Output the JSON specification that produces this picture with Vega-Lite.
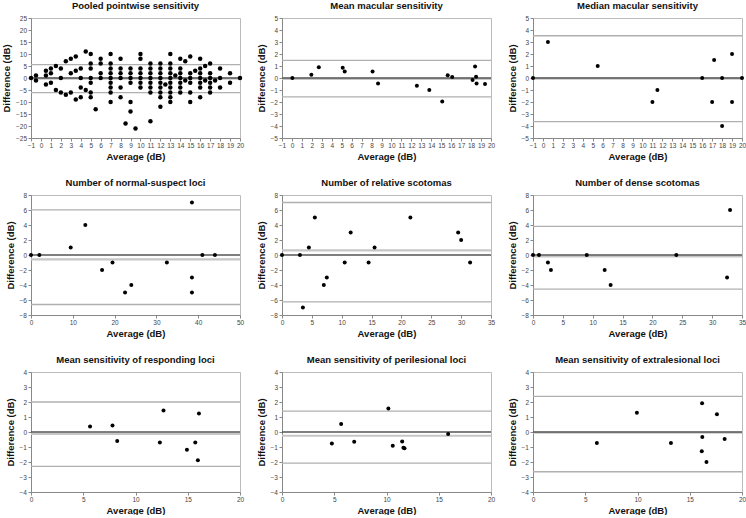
{
"$schema": "https://vega.github.io/schema/vega-lite/v6.json",
"background": "white",
"padding": {"left": 0, "top": 0, "right": 4, "bottom": 0},
"config": {
  "font": "Liberation Sans",
  "view": {"stroke": "#bbb", "strokeWidth": 1},
  "axis": {"grid": false, "domainColor": "#888", "tickColor": "#888", "tickSize": 3, "labelFontSize": 6.5, "labelColor": "#444", "titleFontSize": 9.5, "titleFontWeight": "bold", "titleColor": "#111", "labelPadding": 1.5, "labelOverlap": false, "labelFlush": false},
  "axisY": {"titlePadding": 4},
  "axisX": {"titlePadding": 2},
  "title": {"fontSize": 9.5, "fontWeight": "bold", "offset": 5, "color": "#111"}
},
"datasets": {
"lines": [
{"p":1,"k":"mean","y":-0.3},{"p":1,"k":"loa","y":5.6},{"p":1,"k":"loa","y":-6.1},{"p":1,"k":"zero","y":0},
{"p":2,"k":"mean","y":-0.08},{"p":2,"k":"loa","y":1.47},{"p":2,"k":"loa","y":-1.58},{"p":2,"k":"zero","y":0},
{"p":3,"k":"mean","y":-0.05},{"p":3,"k":"loa","y":3.52},{"p":3,"k":"loa","y":-3.64},{"p":3,"k":"zero","y":0},
{"p":4,"k":"mean","y":-0.58},{"p":4,"k":"loa","y":6.02},{"p":4,"k":"loa","y":-6.6},{"p":4,"k":"zero","y":0},
{"p":5,"k":"mean","y":0.63},{"p":5,"k":"loa","y":7.0},{"p":5,"k":"loa","y":-6.26},{"p":5,"k":"zero","y":0},
{"p":6,"k":"mean","y":-0.2},{"p":6,"k":"loa","y":3.82},{"p":6,"k":"loa","y":-4.55},{"p":6,"k":"zero","y":0},
{"p":7,"k":"mean","y":-0.13},{"p":7,"k":"loa","y":2.0},{"p":7,"k":"loa","y":-2.29},{"p":7,"k":"zero","y":0},
{"p":8,"k":"mean","y":-0.25},{"p":8,"k":"loa","y":1.39},{"p":8,"k":"loa","y":-2.08},{"p":8,"k":"zero","y":0},
{"p":9,"k":"mean","y":-0.05},{"p":9,"k":"loa","y":2.38},{"p":9,"k":"loa","y":-2.65},{"p":9,"k":"zero","y":0}
],
"pts": [
{"p":1,"x":-1,"y":0},
{"p":1,"x":-0.5,"y":1},{"p":1,"x":-0.5,"y":-1},
{"p":1,"x":0.5,"y":3},{"p":1,"x":0.5,"y":1},{"p":1,"x":0.5,"y":-2.7},
{"p":1,"x":1,"y":4},{"p":1,"x":1,"y":2},{"p":1,"x":1,"y":-2},
{"p":1,"x":1.5,"y":5},{"p":1,"x":1.5,"y":-5},
{"p":1,"x":2,"y":4},{"p":1,"x":2,"y":0},{"p":1,"x":2,"y":-6},
{"p":1,"x":2.5,"y":7},{"p":1,"x":2.5,"y":-7},
{"p":1,"x":3,"y":8},{"p":1,"x":3,"y":2},{"p":1,"x":3,"y":-6},
{"p":1,"x":3.5,"y":9},{"p":1,"x":3.5,"y":3},{"p":1,"x":3.5,"y":-9},
{"p":1,"x":4,"y":4},{"p":1,"x":4,"y":0},{"p":1,"x":4,"y":-4},{"p":1,"x":4,"y":-8},
{"p":1,"x":4.5,"y":11},{"p":1,"x":4.5,"y":-5},
{"p":1,"x":5,"y":10},{"p":1,"x":5,"y":6},{"p":1,"x":5,"y":4},{"p":1,"x":5,"y":0},{"p":1,"x":5,"y":-2},{"p":1,"x":5,"y":-6},{"p":1,"x":5,"y":-8},
{"p":1,"x":5.5,"y":-13},
{"p":1,"x":6,"y":8},{"p":1,"x":6,"y":6},{"p":1,"x":6,"y":2},{"p":1,"x":6,"y":0},
{"p":1,"x":7,"y":10},{"p":1,"x":7,"y":6},{"p":1,"x":7,"y":4},{"p":1,"x":7,"y":2},{"p":1,"x":7,"y":0},{"p":1,"x":7,"y":-2},{"p":1,"x":7,"y":-4},{"p":1,"x":7,"y":-6},{"p":1,"x":7,"y":-10},
{"p":1,"x":8,"y":8},{"p":1,"x":8,"y":4},{"p":1,"x":8,"y":2},{"p":1,"x":8,"y":0},{"p":1,"x":8,"y":-4},{"p":1,"x":8,"y":-8},
{"p":1,"x":8.5,"y":-19},
{"p":1,"x":9,"y":4},{"p":1,"x":9,"y":2},{"p":1,"x":9,"y":0},{"p":1,"x":9,"y":-2},{"p":1,"x":9,"y":-10},{"p":1,"x":9,"y":-14},
{"p":1,"x":9.5,"y":-21},
{"p":1,"x":10,"y":10},{"p":1,"x":10,"y":8},{"p":1,"x":10,"y":4},{"p":1,"x":10,"y":2},{"p":1,"x":10,"y":0},{"p":1,"x":10,"y":-2},{"p":1,"x":10,"y":-4},
{"p":1,"x":11,"y":6},{"p":1,"x":11,"y":4},{"p":1,"x":11,"y":2},{"p":1,"x":11,"y":0},{"p":1,"x":11,"y":-2},{"p":1,"x":11,"y":-4},{"p":1,"x":11,"y":-6},{"p":1,"x":11,"y":-18},
{"p":1,"x":12,"y":6},{"p":1,"x":12,"y":4},{"p":1,"x":12,"y":2},{"p":1,"x":12,"y":0},{"p":1,"x":12,"y":-2},{"p":1,"x":12,"y":-4},{"p":1,"x":12,"y":-6},{"p":1,"x":12,"y":-8},{"p":1,"x":12,"y":-12},
{"p":1,"x":12.5,"y":-2.7},
{"p":1,"x":13,"y":10},{"p":1,"x":13,"y":6},{"p":1,"x":13,"y":4},{"p":1,"x":13,"y":2},{"p":1,"x":13,"y":0},{"p":1,"x":13,"y":-2},{"p":1,"x":13,"y":-4},{"p":1,"x":13,"y":-6},{"p":1,"x":13,"y":-8},{"p":1,"x":13,"y":-10},
{"p":1,"x":13.5,"y":1},
{"p":1,"x":14,"y":8},{"p":1,"x":14,"y":4},{"p":1,"x":14,"y":2},{"p":1,"x":14,"y":0},{"p":1,"x":14,"y":-2},{"p":1,"x":14,"y":-4},{"p":1,"x":14,"y":-6},
{"p":1,"x":14.5,"y":7},{"p":1,"x":14.5,"y":-1},
{"p":1,"x":15,"y":9},{"p":1,"x":15,"y":2},{"p":1,"x":15,"y":0},{"p":1,"x":15,"y":-2},{"p":1,"x":15,"y":-6},{"p":1,"x":15,"y":-10},
{"p":1,"x":15.5,"y":3},
{"p":1,"x":16,"y":8},{"p":1,"x":16,"y":4},{"p":1,"x":16,"y":2},{"p":1,"x":16,"y":0},{"p":1,"x":16,"y":-2},{"p":1,"x":16,"y":-4},{"p":1,"x":16,"y":-8},
{"p":1,"x":16.5,"y":5},{"p":1,"x":16.5,"y":-1},
{"p":1,"x":17,"y":6},{"p":1,"x":17,"y":2},{"p":1,"x":17,"y":0},{"p":1,"x":17,"y":-2},{"p":1,"x":17,"y":-4},{"p":1,"x":17,"y":-6},
{"p":1,"x":17.5,"y":-1},
{"p":1,"x":18,"y":4},{"p":1,"x":18,"y":0},{"p":1,"x":18,"y":-4},
{"p":1,"x":19,"y":2},{"p":1,"x":19,"y":-2},
{"p":1,"x":20,"y":0},
{"p":2,"x":0.04,"y":0},{"p":2,"x":1.95,"y":0.28},{"p":2,"x":2.7,"y":0.9},{"p":2,"x":5.1,"y":0.85},{"p":2,"x":5.3,"y":0.55},{"p":2,"x":8.1,"y":0.55},{"p":2,"x":8.65,"y":-0.45},{"p":2,"x":12.55,"y":-0.65},{"p":2,"x":13.8,"y":-1.0},{"p":2,"x":15.1,"y":-1.95},{"p":2,"x":15.65,"y":0.22},{"p":2,"x":16.1,"y":0.08},{"p":2,"x":18.15,"y":-0.17},{"p":2,"x":18.4,"y":0.95},{"p":2,"x":18.5,"y":0.1},{"p":2,"x":18.55,"y":-0.45},{"p":2,"x":19.4,"y":-0.5},
{"p":3,"x":-1,"y":0},{"p":3,"x":0.5,"y":3},{"p":3,"x":5.5,"y":1},{"p":3,"x":11,"y":-2},{"p":3,"x":11.5,"y":-1},{"p":3,"x":16,"y":0},{"p":3,"x":17,"y":-2},{"p":3,"x":17.2,"y":1.5},{"p":3,"x":18,"y":0},{"p":3,"x":18,"y":-4},{"p":3,"x":19,"y":2},{"p":3,"x":19,"y":-2},{"p":3,"x":20,"y":0},
{"p":4,"x":0,"y":0},{"p":4,"x":2,"y":0},{"p":4,"x":9.5,"y":1},{"p":4,"x":13,"y":4},{"p":4,"x":17,"y":-2},{"p":4,"x":19.5,"y":-1},{"p":4,"x":22.5,"y":-5},{"p":4,"x":24,"y":-4},{"p":4,"x":32.5,"y":-1},{"p":4,"x":38.5,"y":7},{"p":4,"x":38.5,"y":-3},{"p":4,"x":38.5,"y":-5},{"p":4,"x":41,"y":0},{"p":4,"x":44,"y":0},
{"p":5,"x":0,"y":0},{"p":5,"x":3,"y":0},{"p":5,"x":3.5,"y":-7},{"p":5,"x":4.5,"y":1},{"p":5,"x":5.5,"y":5},{"p":5,"x":7,"y":-4},{"p":5,"x":7.5,"y":-3},{"p":5,"x":10.5,"y":-1},{"p":5,"x":11.5,"y":3},{"p":5,"x":14.5,"y":-1},{"p":5,"x":15.5,"y":1},{"p":5,"x":21.5,"y":5},{"p":5,"x":29.5,"y":3},{"p":5,"x":30,"y":2},{"p":5,"x":31.5,"y":-1},
{"p":6,"x":0,"y":0},{"p":6,"x":1,"y":0},{"p":6,"x":2.5,"y":-1},{"p":6,"x":3,"y":-2},{"p":6,"x":9,"y":0},{"p":6,"x":12,"y":-2},{"p":6,"x":13,"y":-4},{"p":6,"x":24,"y":0},{"p":6,"x":32.5,"y":-3},{"p":6,"x":33,"y":6},
{"p":7,"x":5.65,"y":0.36},{"p":7,"x":7.8,"y":0.43},{"p":7,"x":8.25,"y":-0.6},{"p":7,"x":12.33,"y":-0.7},{"p":7,"x":12.68,"y":1.44},{"p":7,"x":14.92,"y":-1.19},{"p":7,"x":15.72,"y":-0.7},{"p":7,"x":15.97,"y":-1.89},{"p":7,"x":16.07,"y":1.24},
{"p":8,"x":4.77,"y":-0.76},{"p":8,"x":5.66,"y":0.54},{"p":8,"x":6.91,"y":-0.65},{"p":8,"x":10.18,"y":1.56},{"p":8,"x":10.6,"y":-0.92},{"p":8,"x":11.5,"y":-0.63},{"p":8,"x":11.62,"y":-1.05},{"p":8,"x":11.72,"y":-1.08},{"p":8,"x":15.9,"y":-0.13},
{"p":9,"x":6.11,"y":-0.74},{"p":9,"x":9.94,"y":1.28},{"p":9,"x":13.2,"y":-0.74},{"p":9,"x":16.18,"y":1.91},{"p":9,"x":16.2,"y":-0.34},{"p":9,"x":16.15,"y":-1.28},{"p":9,"x":16.6,"y":-2.0},{"p":9,"x":17.6,"y":1.19},{"p":9,"x":18.34,"y":-0.47}
]
},
"columns": 3,
"spacing": {"row": 57, "column": 42},
"bounds": "flush",
"concat": [
{"title": "Pooled pointwise sensitivity", "width": 209, "height": 120,
 "encoding": {"y": {"field": "y", "type": "quantitative", "title": "Difference (dB)", "scale": {"domain": [-25, 25]}, "axis": {"values": [-25,-20,-15,-10,-5,0,5,10,15,20,25], "labelOverlap": false}}},
 "layer": [
 {"data": {"name": "lines"}, "transform": [{"filter": "datum.p==1"}], "mark": {"type": "rule"}, "encoding": {"color": {"condition": [{"test": "datum.k=='zero'", "value": "#555555"}, {"test": "datum.k=='mean'", "value": "#c6c6c6"}], "value": "#b0b0b0"}, "strokeWidth": {"condition": {"test": "datum.k=='mean'", "value": 2.2}, "value": 1.3}}},
 {"data": {"name": "pts"}, "transform": [{"filter": "datum.p==1"}], "mark": {"type": "circle", "color": "#000", "opacity": 1, "size": 20}, "encoding": {"x": {"field": "x", "type": "quantitative", "title": "Average (dB)", "scale": {"domain": [-1, 20], "nice": false, "zero": false}, "axis": {"values": [-1,0,1,2,3,4,5,6,7,8,9,10,11,12,13,14,15,16,17,18,19,20]}}}}
]},
{"title": "Mean macular sensitivity", "width": 209, "height": 120,
 "encoding": {"y": {"field": "y", "type": "quantitative", "title": "Difference (dB)", "scale": {"domain": [-5, 5]}, "axis": {"values": [-5,-4,-3,-2,-1,0,1,2,3,4,5], "labelOverlap": false}}},
 "layer": [
 {"data": {"name": "lines"}, "transform": [{"filter": "datum.p==2"}], "mark": {"type": "rule"}, "encoding": {"color": {"condition": [{"test": "datum.k=='zero'", "value": "#555555"}, {"test": "datum.k=='mean'", "value": "#c6c6c6"}], "value": "#b0b0b0"}, "strokeWidth": {"condition": {"test": "datum.k=='mean'", "value": 2.2}, "value": 1.3}}},
 {"data": {"name": "pts"}, "transform": [{"filter": "datum.p==2"}], "mark": {"type": "circle", "color": "#000", "opacity": 1, "size": 16}, "encoding": {"x": {"field": "x", "type": "quantitative", "title": "Average (dB)", "scale": {"domain": [-1, 20], "nice": false, "zero": false}, "axis": {"values": [-1,0,1,2,3,4,5,6,7,8,9,10,11,12,13,14,15,16,17,18,19,20]}}}}
]},
{"title": "Median macular sensitivity", "width": 209, "height": 120,
 "encoding": {"y": {"field": "y", "type": "quantitative", "title": "Difference (dB)", "scale": {"domain": [-5, 5]}, "axis": {"values": [-5,-4,-3,-2,-1,0,1,2,3,4,5], "labelOverlap": false}}},
 "layer": [
 {"data": {"name": "lines"}, "transform": [{"filter": "datum.p==3"}], "mark": {"type": "rule"}, "encoding": {"color": {"condition": [{"test": "datum.k=='zero'", "value": "#555555"}, {"test": "datum.k=='mean'", "value": "#c6c6c6"}], "value": "#b0b0b0"}, "strokeWidth": {"condition": {"test": "datum.k=='mean'", "value": 2.2}, "value": 1.3}}},
 {"data": {"name": "pts"}, "transform": [{"filter": "datum.p==3"}], "mark": {"type": "circle", "color": "#000", "opacity": 1, "size": 16}, "encoding": {"x": {"field": "x", "type": "quantitative", "title": "Average (dB)", "scale": {"domain": [-1, 20], "nice": false, "zero": false}, "axis": {"values": [-1,0,1,2,3,4,5,6,7,8,9,10,11,12,13,14,15,16,17,18,19,20]}}}}
]},
{"title": "Number of normal-suspect loci", "width": 209, "height": 120,
 "encoding": {"y": {"field": "y", "type": "quantitative", "title": "Difference (dB)", "scale": {"domain": [-8, 8]}, "axis": {"values": [-8,-6,-4,-2,0,2,4,6,8], "labelOverlap": false}}},
 "layer": [
 {"data": {"name": "lines"}, "transform": [{"filter": "datum.p==4"}], "mark": {"type": "rule"}, "encoding": {"color": {"condition": [{"test": "datum.k=='zero'", "value": "#555555"}, {"test": "datum.k=='mean'", "value": "#c6c6c6"}], "value": "#b0b0b0"}, "strokeWidth": {"condition": {"test": "datum.k=='mean'", "value": 2.2}, "value": 1.3}}},
 {"data": {"name": "pts"}, "transform": [{"filter": "datum.p==4"}], "mark": {"type": "circle", "color": "#000", "opacity": 1, "size": 16}, "encoding": {"x": {"field": "x", "type": "quantitative", "title": "Average (dB)", "scale": {"domain": [0, 50], "nice": false}, "axis": {"values": [0,10,20,30,40,50]}}}}
]},
{"title": "Number of relative scotomas", "width": 209, "height": 120,
 "encoding": {"y": {"field": "y", "type": "quantitative", "title": "Difference (dB)", "scale": {"domain": [-8, 8]}, "axis": {"values": [-8,-6,-4,-2,0,2,4,6,8], "labelOverlap": false}}},
 "layer": [
 {"data": {"name": "lines"}, "transform": [{"filter": "datum.p==5"}], "mark": {"type": "rule"}, "encoding": {"color": {"condition": [{"test": "datum.k=='zero'", "value": "#555555"}, {"test": "datum.k=='mean'", "value": "#c6c6c6"}], "value": "#b0b0b0"}, "strokeWidth": {"condition": {"test": "datum.k=='mean'", "value": 2.2}, "value": 1.3}}},
 {"data": {"name": "pts"}, "transform": [{"filter": "datum.p==5"}], "mark": {"type": "circle", "color": "#000", "opacity": 1, "size": 16}, "encoding": {"x": {"field": "x", "type": "quantitative", "title": "Average (dB)", "scale": {"domain": [0, 35], "nice": false}, "axis": {"values": [0,5,10,15,20,25,30,35]}}}}
]},
{"title": "Number of dense scotomas", "width": 209, "height": 120,
 "encoding": {"y": {"field": "y", "type": "quantitative", "title": "Difference (dB)", "scale": {"domain": [-8, 8]}, "axis": {"values": [-8,-6,-4,-2,0,2,4,6,8], "labelOverlap": false}}},
 "layer": [
 {"data": {"name": "lines"}, "transform": [{"filter": "datum.p==6"}], "mark": {"type": "rule"}, "encoding": {"color": {"condition": [{"test": "datum.k=='zero'", "value": "#555555"}, {"test": "datum.k=='mean'", "value": "#c6c6c6"}], "value": "#b0b0b0"}, "strokeWidth": {"condition": {"test": "datum.k=='mean'", "value": 2.2}, "value": 1.3}}},
 {"data": {"name": "pts"}, "transform": [{"filter": "datum.p==6"}], "mark": {"type": "circle", "color": "#000", "opacity": 1, "size": 16}, "encoding": {"x": {"field": "x", "type": "quantitative", "title": "Average (dB)", "scale": {"domain": [0, 35], "nice": false}, "axis": {"values": [0,5,10,15,20,25,30,35]}}}}
]},
{"title": "Mean sensitivity of responding loci", "width": 209, "height": 120,
 "encoding": {"y": {"field": "y", "type": "quantitative", "title": "Difference (dB)", "scale": {"domain": [-4, 4]}, "axis": {"values": [-4,-3,-2,-1,0,1,2,3,4], "labelOverlap": false}}},
 "layer": [
 {"data": {"name": "lines"}, "transform": [{"filter": "datum.p==7"}], "mark": {"type": "rule"}, "encoding": {"color": {"condition": [{"test": "datum.k=='zero'", "value": "#555555"}, {"test": "datum.k=='mean'", "value": "#c6c6c6"}], "value": "#b0b0b0"}, "strokeWidth": {"condition": {"test": "datum.k=='mean'", "value": 2.2}, "value": 1.3}}},
 {"data": {"name": "pts"}, "transform": [{"filter": "datum.p==7"}], "mark": {"type": "circle", "color": "#000", "opacity": 1, "size": 16}, "encoding": {"x": {"field": "x", "type": "quantitative", "title": "Average (dB)", "scale": {"domain": [0, 20], "nice": false}, "axis": {"values": [0,5,10,15,20]}}}}
]},
{"title": "Mean sensitivity of perilesional loci", "width": 209, "height": 120,
 "encoding": {"y": {"field": "y", "type": "quantitative", "title": "Difference (dB)", "scale": {"domain": [-4, 4]}, "axis": {"values": [-4,-3,-2,-1,0,1,2,3,4], "labelOverlap": false}}},
 "layer": [
 {"data": {"name": "lines"}, "transform": [{"filter": "datum.p==8"}], "mark": {"type": "rule"}, "encoding": {"color": {"condition": [{"test": "datum.k=='zero'", "value": "#555555"}, {"test": "datum.k=='mean'", "value": "#c6c6c6"}], "value": "#b0b0b0"}, "strokeWidth": {"condition": {"test": "datum.k=='mean'", "value": 2.2}, "value": 1.3}}},
 {"data": {"name": "pts"}, "transform": [{"filter": "datum.p==8"}], "mark": {"type": "circle", "color": "#000", "opacity": 1, "size": 16}, "encoding": {"x": {"field": "x", "type": "quantitative", "title": "Average (dB)", "scale": {"domain": [0, 20], "nice": false}, "axis": {"values": [0,5,10,15,20]}}}}
]},
{"title": "Mean sensitivity of extralesional loci", "width": 209, "height": 120,
 "encoding": {"y": {"field": "y", "type": "quantitative", "title": "Difference (dB)", "scale": {"domain": [-4, 4]}, "axis": {"values": [-4,-3,-2,-1,0,1,2,3,4], "labelOverlap": false}}},
 "layer": [
 {"data": {"name": "lines"}, "transform": [{"filter": "datum.p==9"}], "mark": {"type": "rule"}, "encoding": {"color": {"condition": [{"test": "datum.k=='zero'", "value": "#555555"}, {"test": "datum.k=='mean'", "value": "#c6c6c6"}], "value": "#b0b0b0"}, "strokeWidth": {"condition": {"test": "datum.k=='mean'", "value": 2.2}, "value": 1.3}}},
 {"data": {"name": "pts"}, "transform": [{"filter": "datum.p==9"}], "mark": {"type": "circle", "color": "#000", "opacity": 1, "size": 16}, "encoding": {"x": {"field": "x", "type": "quantitative", "title": "Average (dB)", "scale": {"domain": [0, 20], "nice": false}, "axis": {"values": [0,5,10,15,20]}}}}
]}
]
}
